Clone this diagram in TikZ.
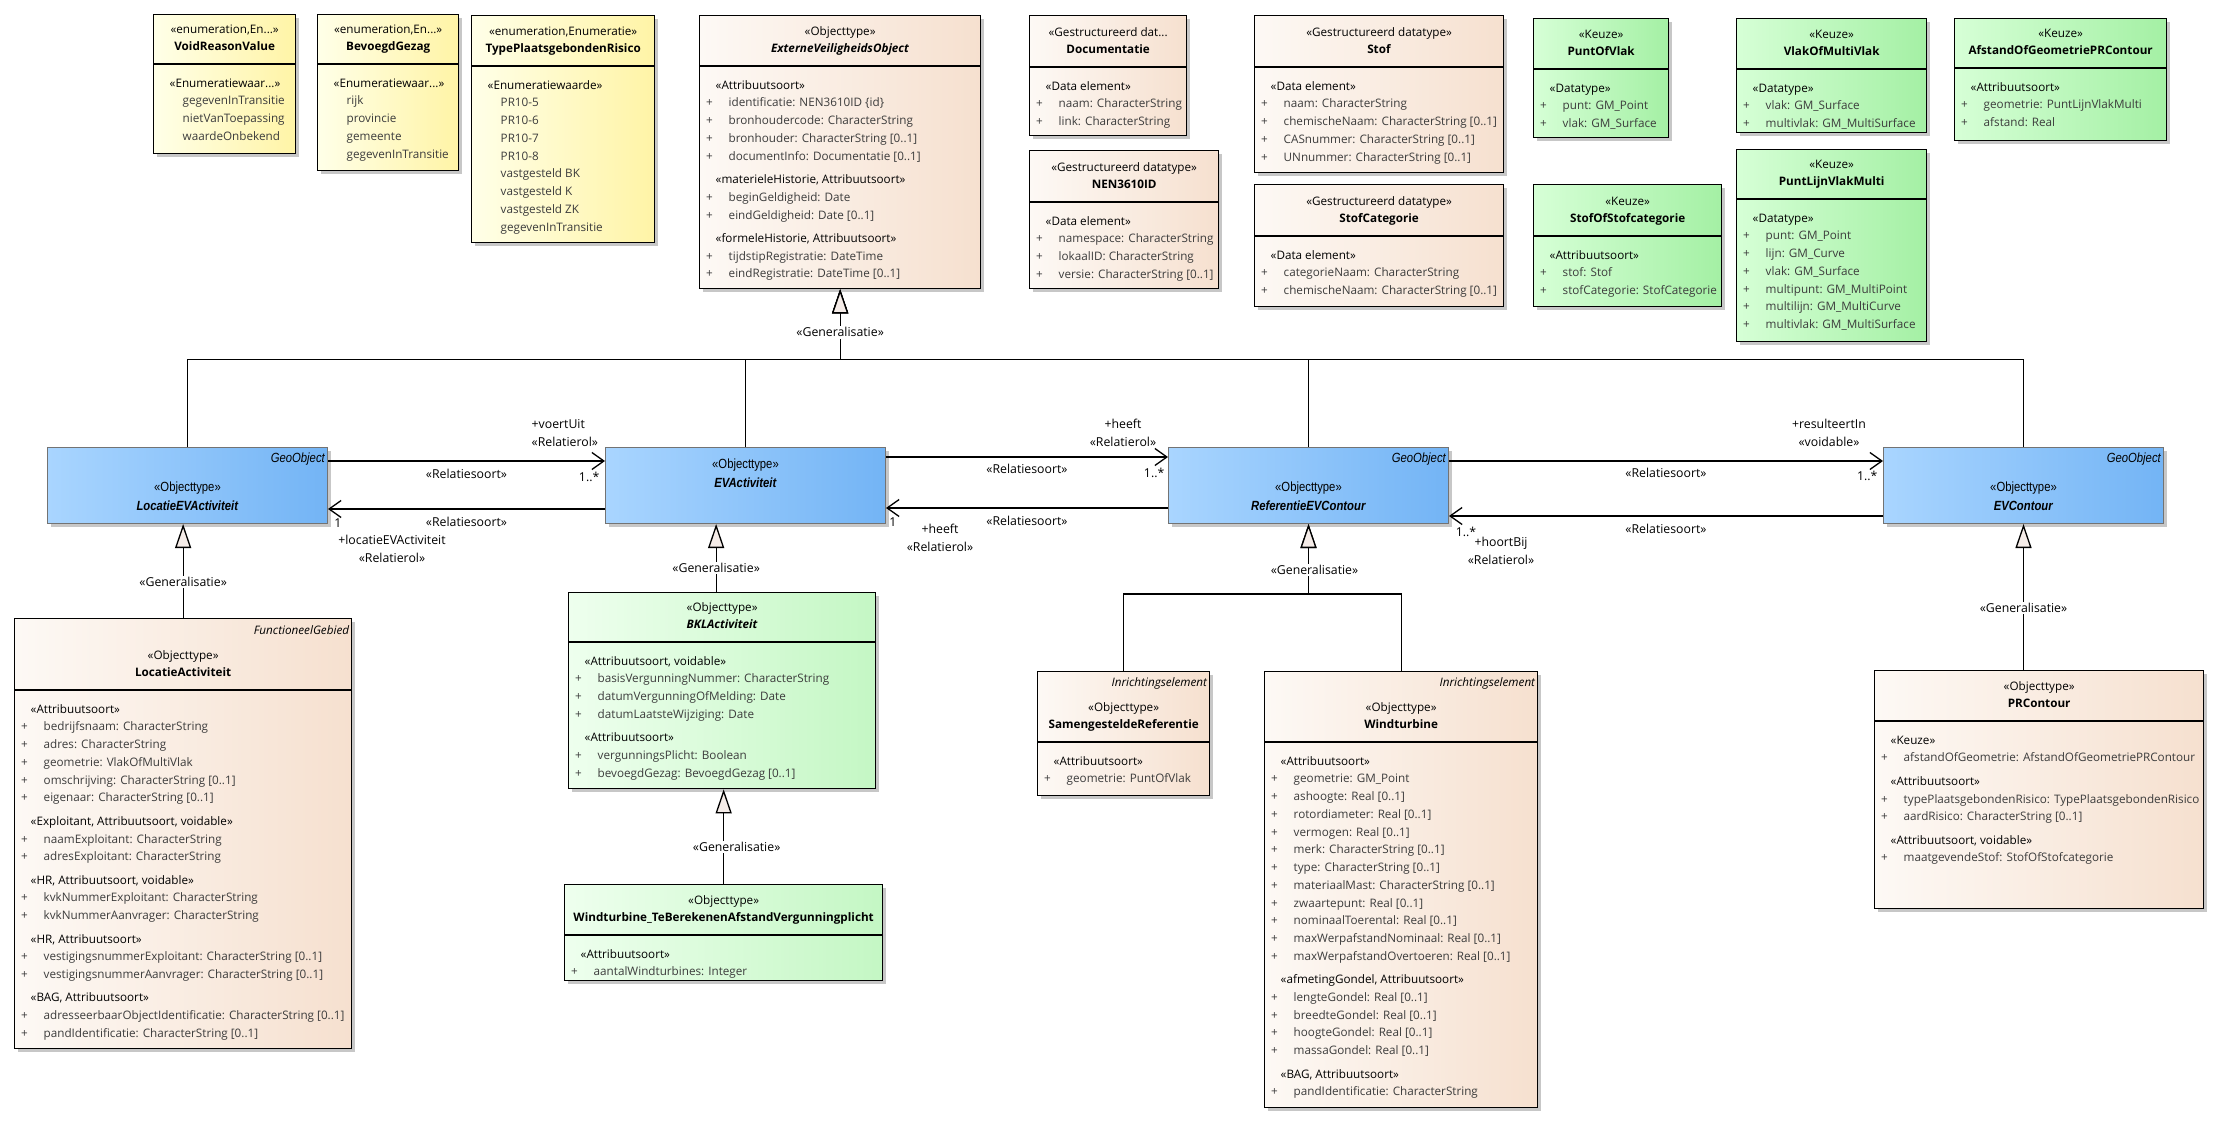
\documentclass[tikz,border=0pt]{standalone}
\usepackage{fontspec}
\setmainfont{Open Sans}
\newfontfamily\etroit[FakeStretch=0.85]{Liberation Sans}
\usetikzlibrary{arrows.meta,shadows,positioning}

% couleurs
\definecolor{attgris}{HTML}{3C3C3C}
\definecolor{beigeA}{HTML}{FDF9F5}
\definecolor{beigeB}{HTML}{F6E0CF}
\definecolor{jauneA}{HTML}{FFFFE8}
\definecolor{jauneB}{HTML}{FFF4A6}
\definecolor{vertA}{HTML}{D6FFD6}
\definecolor{vertB}{HTML}{A4F0A4}
\definecolor{vertC}{HTML}{EEFFEE}
\definecolor{vertD}{HTML}{C4F7C4}
\definecolor{bleuA}{HTML}{A9D5FF}
\definecolor{bleuB}{HTML}{73B4F5}
\definecolor{pointe}{HTML}{F5ECE8}

% polices
\newcommand{\attfont}{\fontsize{11.7}{17.73}\selectfont}
\newcommand{\relfont}{\fontsize{12.3}{18}\selectfont}
\newcommand{\bleufont}{\etroit\fontsize{13.3}{19.3}\selectfont}

% lignes des compartiments
\newcommand{\stereo}[1]{\hspace*{9.5pt}{\color{black}«#1»}}
\newcommand{\attr}[1]{\makebox[22.5pt][l]{+}#1}
\newcommand{\waarde}[1]{\hspace*{22.5pt}#1}

% une classe : nom, coin, largeur, hauteur, separateur, couleur, en-tete, attributs
\newcommand{\classe}[8]{%
  \node[boite, #6, minimum width=#3pt, minimum height=#4pt] (#1) at #2 {};
  \draw[line width=1.3pt] ([yshift=-#5pt]#1.north west) -- ([yshift=-#5pt]#1.north east);
  \node[entete] (#1-t) at ([yshift=-#5pt+25.5pt]#1.north) {#7};
  \node[attributs] (#1-a) at ([xshift=7pt,yshift=-#5pt-10.6pt]#1.north west) {#8};
}

\begin{document}
\begin{tikzpicture}[x=1pt, y=-1pt,
  boite/.style={draw, anchor=north west, inner sep=0pt, line width=1.3pt,
    drop shadow={shadow xshift=3pt, shadow yshift=-3pt, fill=black!22, opacity=1}},
  beige/.style={left color=beigeA, right color=beigeB},
  jaune/.style={left color=jauneA, right color=jauneB},
  vert/.style={left color=vertA, right color=vertB},
  vertclair/.style={left color=vertC, right color=vertD},
  objet/.style={draw=black!55, line width=1pt, anchor=north west, inner sep=0pt,
    left color=bleuA, right color=bleuB, minimum width=280pt, minimum height=76pt,
    drop shadow={shadow xshift=3pt, shadow yshift=-3pt, fill=black!22, opacity=1}},
  entete/.style={align=center, inner sep=0pt, font=\attfont},
  attributs/.style={anchor=north west, inner sep=0pt, align=left, font=\attfont, text=attgris},
  etiq/.style={anchor=base east, inner sep=0pt, font=\attfont\itshape},
  objet texte/.style={align=center, inner sep=0pt, font=\bleufont},
  geo/.style={anchor=base east, inner sep=0pt, font=\bleufont\itshape},
  lbl/.style={inner sep=0pt, align=center, font=\relfont},
  genlbl/.style={lbl, fill=white, inner sep=1.5pt},
  assoc/.style={line width=1.3pt, -{Straight Barb[length=12pt, width=17pt]}},
  gen/.style={line width=1.3pt, -{Triangle[length=24pt, width=16pt, fill=pointe]}}
]
\useasboundingbox (0,0) rectangle (2227,1126);

% les enumerations
\classe{void}{(153,14)}{142}{139}{50}{jaune}
  {\strut«enumeration,En...»\\\strut\textbf{VoidReasonValue}}
  {\strut\stereo{Enumeratiewaar...}\\\waarde{gegevenInTransitie}\\\waarde{nietVanToepassing}\\\waarde{waardeOnbekend}}
\classe{bg}{(317,14)}{141}{156}{50}{jaune}
  {\strut«enumeration,En...»\\\strut\textbf{BevoegdGezag}}
  {\strut\stereo{Enumeratiewaar...}\\\waarde{rijk}\\\waarde{provincie}\\\waarde{gemeente}\\\waarde{gegevenInTransitie}}
\classe{tpr}{(471,15)}{183}{227}{51}{jaune}
  {\strut«enumeration,Enumeratie»\\\strut\textbf{TypePlaatsgebondenRisico}}
  {\strut\stereo{Enumeratiewaarde}\\\waarde{PR10-5}\\\waarde{PR10-6}\\\waarde{PR10-7}\\\waarde{PR10-8}\\
   \waarde{vastgesteld BK}\\\waarde{vastgesteld K}\\\waarde{vastgesteld ZK}\\\waarde{gegevenInTransitie}}

% l'objet de base
\classe{evo}{(699,15)}{281}{273}{51}{beige}
  {\strut«Objecttype»\\\strut\textbf{\textit{ExterneVeiligheidsObject}}}
  {\strut\stereo{Attribuutsoort}\\
   \attr{identificatie: NEN3610ID \{id\}}\\
   \attr{bronhoudercode: CharacterString}\\
   \attr{bronhouder: CharacterString [0..1]}\\
   \attr{documentInfo: Documentatie [0..1]}\\[5.7pt]
   \stereo{materieleHistorie, Attribuutsoort}\\
   \attr{beginGeldigheid: Date}\\
   \attr{eindGeldigheid: Date [0..1]}\\[5.7pt]
   \stereo{formeleHistorie, Attribuutsoort}\\
   \attr{tijdstipRegistratie: DateTime}\\
   \attr{eindRegistratie: DateTime [0..1]}}

% les datatypes
\classe{doc}{(1029,15)}{157}{120}{52}{beige}
  {\strut«Gestructureerd dat...\\\strut\textbf{Documentatie}}
  {\strut\stereo{Data element}\\\attr{naam: CharacterString}\\\attr{link: CharacterString}}
\classe{nen}{(1029,150)}{189}{138}{52}{beige}
  {\strut«Gestructureerd datatype»\\\strut\textbf{NEN3610ID}}
  {\strut\stereo{Data element}\\\attr{namespace: CharacterString}\\\attr{lokaalID: CharacterString}\\
   \attr{versie: CharacterString [0..1]}}
\classe{stof}{(1254,15)}{249}{157}{52}{beige}
  {\strut«Gestructureerd datatype»\\\strut\textbf{Stof}}
  {\strut\stereo{Data element}\\\attr{naam: CharacterString}\\\attr{chemischeNaam: CharacterString [0..1]}\\
   \attr{CASnummer: CharacterString [0..1]}\\\attr{UNnummer: CharacterString [0..1]}}
\classe{stofcat}{(1254,184)}{249}{122}{52}{beige}
  {\strut«Gestructureerd datatype»\\\strut\textbf{StofCategorie}}
  {\strut\stereo{Data element}\\\attr{categorieNaam: CharacterString}\\\attr{chemischeNaam: CharacterString [0..1]}}

% les choix
\classe{pov}{(1533,18)}{135}{119}{51}{vert}
  {\strut«Keuze»\\\strut\textbf{PuntOfVlak}}
  {\strut\stereo{Datatype}\\\attr{punt: GM\_Point}\\\attr{vlak: GM\_Surface}}
\classe{vomv}{(1736,18)}{190}{114}{51}{vert}
  {\strut«Keuze»\\\strut\textbf{VlakOfMultiVlak}}
  {\strut\stereo{Datatype}\\\attr{vlak: GM\_Surface}\\\attr{multivlak: GM\_MultiSurface}}
\classe{aog}{(1954,18)}{212}{122}{50}{vert}
  {\strut«Keuze»\\\strut\textbf{AfstandOfGeometriePRContour}}
  {\strut\stereo{Attribuutsoort}\\\attr{geometrie: PuntLijnVlakMulti}\\\attr{afstand: Real}}
\classe{sos}{(1533,184)}{188}{122}{52}{vert}
  {\strut«Keuze»\\\strut\textbf{StofOfStofcategorie}}
  {\strut\stereo{Attribuutsoort}\\\attr{stof: Stof}\\\attr{stofCategorie: StofCategorie}}
\classe{plvm}{(1736,149)}{190}{192}{50}{vert}
  {\strut«Keuze»\\\strut\textbf{PuntLijnVlakMulti}}
  {\strut\stereo{Datatype}\\\attr{punt: GM\_Point}\\\attr{lijn: GM\_Curve}\\\attr{vlak: GM\_Surface}\\
   \attr{multipunt: GM\_MultiPoint}\\\attr{multilijn: GM\_MultiCurve}\\\attr{multivlak: GM\_MultiSurface}}

% les objets geo
\node[objet] (locev) at (47,447) {};
\node[geo] (locev-g) at ([xshift=-3pt,yshift=-15.5pt]locev.north east) {GeoObject};
\node[objet texte] (locev-t) at ([yshift=-50pt]locev.north) {\strut«Objecttype»\\\strut\textbf{\textit{LocatieEVActiviteit}}};
\node[objet] (evact) at (605,447) {};
\node[objet texte] (evact-t) at ([yshift=-27pt]evact.north) {\strut«Objecttype»\\\strut\textbf{\textit{EVActiviteit}}};
\node[objet] (refev) at (1168,447) {};
\node[geo] (refev-g) at ([xshift=-3pt,yshift=-15.5pt]refev.north east) {GeoObject};
\node[objet texte] (refev-t) at ([yshift=-50pt]refev.north) {\strut«Objecttype»\\\strut\textbf{\textit{ReferentieEVContour}}};
\node[objet] (evc) at (1883,447) {};
\node[geo] (evc-g) at ([xshift=-3pt,yshift=-15.5pt]evc.north east) {GeoObject};
\node[objet texte] (evc-t) at ([yshift=-50pt]evc.north) {\strut«Objecttype»\\\strut\textbf{\textit{EVContour}}};

% les classes du bas
\classe{locact}{(14,618)}{337}{430}{72}{beige}
  {\strut«Objecttype»\\\strut\textbf{LocatieActiviteit}}
  {\strut\stereo{Attribuutsoort}\\
   \attr{bedrijfsnaam: CharacterString}\\
   \attr{adres: CharacterString}\\
   \attr{geometrie: VlakOfMultiVlak}\\
   \attr{omschrijving: CharacterString [0..1]}\\
   \attr{eigenaar: CharacterString [0..1]}\\[5.7pt]
   \stereo{Exploitant, Attribuutsoort, voidable}\\
   \attr{naamExploitant: CharacterString}\\
   \attr{adresExploitant: CharacterString}\\[5.7pt]
   \stereo{HR, Attribuutsoort, voidable}\\
   \attr{kvkNummerExploitant: CharacterString}\\
   \attr{kvkNummerAanvrager: CharacterString}\\[5.7pt]
   \stereo{HR, Attribuutsoort}\\
   \attr{vestigingsnummerExploitant: CharacterString [0..1]}\\
   \attr{vestigingsnummerAanvrager: CharacterString [0..1]}\\[5.7pt]
   \stereo{BAG, Attribuutsoort}\\
   \attr{adresseerbaarObjectIdentificatie: CharacterString [0..1]}\\
   \attr{pandIdentificatie: CharacterString [0..1]}}
\node[etiq] (locact-g) at ([xshift=-3pt,yshift=-16pt]locact.north east) {FunctioneelGebied};

\classe{bkl}{(568,592)}{307}{196}{50}{vertclair}
  {\strut«Objecttype»\\\strut\textbf{\textit{BKLActiviteit}}}
  {\strut\stereo{Attribuutsoort, voidable}\\
   \attr{basisVergunningNummer: CharacterString}\\
   \attr{datumVergunningOfMelding: Date}\\
   \attr{datumLaatsteWijziging: Date}\\[5.7pt]
   \stereo{Attribuutsoort}\\
   \attr{vergunningsPlicht: Boolean}\\
   \attr{bevoegdGezag: BevoegdGezag [0..1]}}
\classe{wtb}{(564,884)}{318}{96}{51}{vertclair}
  {\strut«Objecttype»\\\strut\textbf{Windturbine\_TeBerekenenAfstandVergunningplicht}}
  {\strut\stereo{Attribuutsoort}\\\attr{aantalWindturbines: Integer}}

\classe{samref}{(1037,671)}{172}{124}{71}{beige}
  {\strut«Objecttype»\\\strut\textbf{SamengesteldeReferentie}}
  {\strut\stereo{Attribuutsoort}\\\attr{geometrie: PuntOfVlak}}
\node[etiq] (samref-g) at ([xshift=-3pt,yshift=-15pt]samref.north east) {Inrichtingselement};
\classe{wt}{(1264,671)}{273}{436}{71}{beige}
  {\strut«Objecttype»\\\strut\textbf{Windturbine}}
  {\strut\stereo{Attribuutsoort}\\
   \attr{geometrie: GM\_Point}\\
   \attr{ashoogte: Real [0..1]}\\
   \attr{rotordiameter: Real [0..1]}\\
   \attr{vermogen: Real [0..1]}\\
   \attr{merk: CharacterString [0..1]}\\
   \attr{type: CharacterString [0..1]}\\
   \attr{materiaalMast: CharacterString [0..1]}\\
   \attr{zwaartepunt: Real [0..1]}\\
   \attr{nominaalToerental: Real [0..1]}\\
   \attr{maxWerpafstandNominaal: Real [0..1]}\\
   \attr{maxWerpafstandOvertoeren: Real [0..1]}\\[5.7pt]
   \stereo{afmetingGondel, Attribuutsoort}\\
   \attr{lengteGondel: Real [0..1]}\\
   \attr{breedteGondel: Real [0..1]}\\
   \attr{hoogteGondel: Real [0..1]}\\
   \attr{massaGondel: Real [0..1]}\\[5.7pt]
   \stereo{BAG, Attribuutsoort}\\
   \attr{pandIdentificatie: CharacterString}}
\node[etiq] (wt-g) at ([xshift=-3pt,yshift=-15pt]wt.north east) {Inrichtingselement};

\classe{prc}{(1874,670)}{329}{238}{51}{beige}
  {\strut«Objecttype»\\\strut\textbf{PRContour}}
  {\strut\stereo{Keuze}\\
   \attr{afstandOfGeometrie: AfstandOfGeometriePRContour}\\[5.7pt]
   \stereo{Attribuutsoort}\\
   \attr{typePlaatsgebondenRisico: TypePlaatsgebondenRisico}\\
   \attr{aardRisico: CharacterString [0..1]}\\[5.7pt]
   \stereo{Attribuutsoort, voidable}\\
   \attr{maatgevendeStof: StofOfStofcategorie}}

% les generalisations
\coordinate (barre) at ([yshift=-70pt]evo.south);
\foreach \n in {locev, evact, refev, evc}
  \draw[gen] (\n.north) |- (barre) -- (evo.south);
\draw[gen] (locact.north) -- (locact.north |- locev.south);
\coordinate (bklhaut) at ([xshift=-6pt]bkl.north);
\draw[gen] (bklhaut) -- (bklhaut |- evact.south);
\draw[gen] (wtb.north) -- (wtb.north |- bkl.south);
\coordinate (branche) at ([yshift=-70pt]refev.south);
\draw[gen] (samref.north) |- (branche) -- (refev.south);
\draw[gen] (wt.north) |- (branche) -- (refev.south);
\coordinate (prchaut) at (prc.north -| evc.south);
\draw[gen] (prchaut) -- (evc.south);

\node[genlbl] (g-evo) at ([yshift=-43pt]evo.south) {«Generalisatie»};
\node[genlbl] (g-locev) at ([yshift=36pt]locact.north) {«Generalisatie»};
\node[genlbl] (g-evact) at ([yshift=24pt]bklhaut) {«Generalisatie»};
\node[genlbl] (g-bkl) at ([xshift=13pt,yshift=37pt]wtb.north) {«Generalisatie»};
\node[genlbl] (g-refev) at ([xshift=6pt,yshift=-46pt]refev.south) {«Generalisatie»};
\node[genlbl] (g-evc) at ([yshift=62pt]prchaut) {«Generalisatie»};

% les relations
\draw[assoc] ([yshift=-14pt]locev.north east) -- ([yshift=-14pt]evact.north west)
  node[lbl, midway, yshift=-13pt] (a1-s) {«Relatiesoort»}
  node[lbl, at end, anchor=west, align=left, xshift=-74pt, yshift=28pt] (a1-r) {+voertUit\\«Relatierol»}
  node[lbl, at end, anchor=east, xshift=-5pt, yshift=-16pt] (a1-m) {1..*};
\draw[assoc] ([yshift=-62pt]evact.north west) -- ([yshift=-62pt]locev.north east)
  node[lbl, midway, yshift=-13pt] (a2-s) {«Relatiesoort»}
  node[lbl, at end, xshift=10pt, yshift=-14pt] (a2-m) {1}
  node[lbl, at end, xshift=64pt, yshift=-40pt] (a2-r) {+locatieEVActiviteit\\«Relatierol»};
\draw[assoc] ([yshift=-10pt]evact.north east) -- ([yshift=-10pt]refev.north west)
  node[lbl, midway, yshift=-12pt] (a3-s) {«Relatiesoort»}
  node[lbl, at end, xshift=-45pt, yshift=24pt] (a3-r) {+heeft\\«Relatierol»}
  node[lbl, at end, anchor=east, xshift=-3pt, yshift=-16pt] (a3-m) {1..*};
\draw[assoc] ([yshift=-61pt]refev.north west) -- ([yshift=-61pt]evact.north east)
  node[lbl, midway, yshift=-13pt] (a4-s) {«Relatiesoort»}
  node[lbl, at end, xshift=7pt, yshift=-14pt] (a4-m) {1}
  node[lbl, at end, xshift=54pt, yshift=-30pt] (a4-r) {+heeft\\«Relatierol»};
\draw[assoc] ([yshift=-14pt]refev.north east) -- ([yshift=-14pt]evc.north west)
  node[lbl, midway, yshift=-12pt] (a5-s) {«Relatiesoort»}
  node[lbl, at end, xshift=-54pt, yshift=28pt] (a5-r) {+resulteertIn\\«voidable»}
  node[lbl, at end, anchor=east, xshift=-5pt, yshift=-15pt] (a5-m) {1..*};
\draw[assoc] ([yshift=-69pt]evc.north west) -- ([yshift=-69pt]refev.north east)
  node[lbl, midway, yshift=-13pt] (a6-s) {«Relatiesoort»}
  node[lbl, at end, xshift=17pt, yshift=-16pt] (a6-m) {1..*}
  node[lbl, at end, xshift=52pt, yshift=-35pt] (a6-r) {+hoortBij\\«Relatierol»};
\end{tikzpicture}
\end{document}
